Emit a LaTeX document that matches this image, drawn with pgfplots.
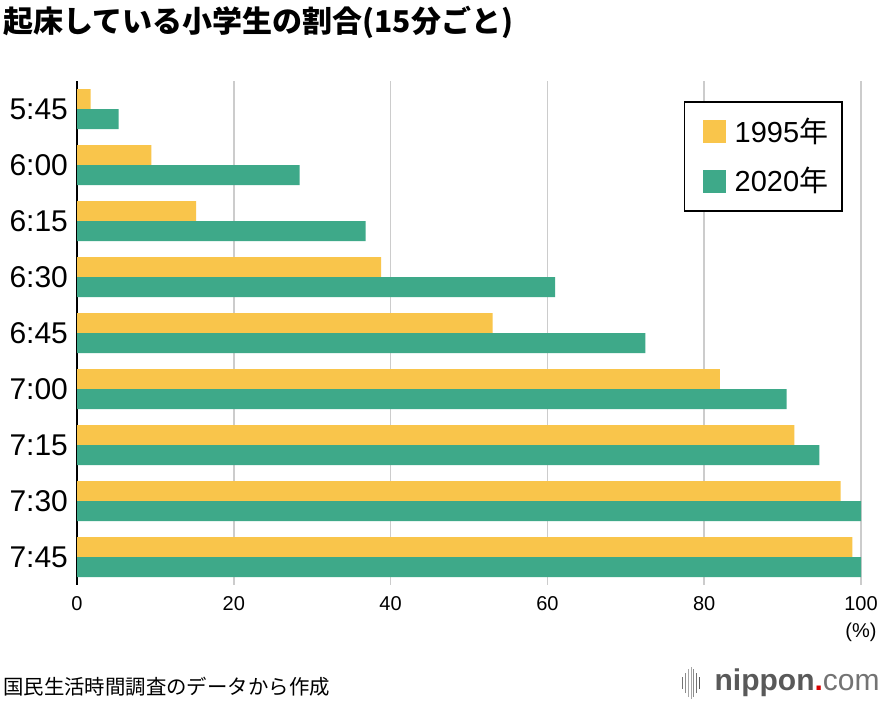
\documentclass[border=0pt]{standalone}
\usepackage{fontspec}
\setmainfont{Liberation Sans}
\newfontfamily\jp{Noto Sans CJK JP}
\usepackage{pgfplots}
\pgfplotsset{compat=1.18}
\definecolor{cyellow}{RGB}{249,197,75}
\definecolor{cgreen}{RGB}{62,169,137}
\definecolor{cgrid}{RGB}{204,204,204}
\begin{document}
\begin{tikzpicture}
\useasboundingbox[fill=white] (-38.5pt,-58.5pt) rectangle (402.5pt,292.5pt);
\begin{axis}[
  at={(0pt,0pt)}, anchor=south west,
  scale only axis, width=392pt, height=252pt,
  xbar, bar width=10pt,
  xmin=0, xmax=100, ymin=-0.5, ymax=8.5,
  y dir=reverse,
  axis lines=left,
  x axis line style={draw=none},
  y axis line style={-, black, line width=0.9pt},
  xtick={0,20,40,60,80,100},
  ytick={0,1,2,3,4,5,6,7,8},
  yticklabels={5:45,6:00,6:15,6:30,6:45,7:00,7:15,7:30,7:45},
  major tick length=0pt,
  xmajorgrids, grid style={cgrid, line width=0.75pt},
  xticklabel style={font=\fontsize{10}{12}\selectfont, yshift=-2pt},
  yticklabel style={font=\fontsize{15}{18}\selectfont, xshift=-1pt},
  /pgf/number format/assume math mode=true,
  legend style={at={(rel axis cs:0.774,0.960)}, anchor=north west,
    draw=black, line width=0.8pt, font=\fontsize{14.5}{17}\selectfont,
    inner xsep=5pt, inner ysep=6pt, row sep=7pt,
    cells={anchor=west}},
  legend image code/.code={\path (-4pt,0pt); \fill[#1,draw=none] (0pt,-5.75pt) rectangle (11.5pt,5.75pt);},
  clip=false,
]
\addplot[fill=cyellow, draw=none, bar shift=5pt] coordinates {
  (1.75,0) (9.5,1) (15.2,2) (38.8,3) (53.0,4) (82.0,5) (91.5,6) (97.4,7) (98.9,8)};
\addlegendentry{\hspace{2.5pt}1995{\jp 年}}
\addplot[fill=cgreen, draw=none, bar shift=-5pt] coordinates {
  (5.3,0) (28.4,1) (36.8,2) (61.0,3) (72.5,4) (90.5,5) (94.7,6) (100,7) (100,8)};
\addlegendentry{\hspace{2.5pt}2020{\jp 年}}
\node[font=\fontsize{10}{12}\selectfont, anchor=center] at ([yshift=-23.5pt]rel axis cs:1,0) {(\%)};
\end{axis}
\node[anchor=west, font=\jp\bfseries\fontsize{15}{18}\selectfont, inner sep=0pt] at (-37pt,281.5pt) {起床している小学生の割合(15分ごと)};
\node[anchor=west, font=\jp\fontsize{10.2}{12}\selectfont, inner sep=0pt] at (-37pt,-51pt) {国民生活時間調査のデータから作成};
\node[anchor=east, font=\fontsize{15}{18}\selectfont, inner sep=0pt] at (401.5pt,-49pt) {{\bfseries\color{black!65}nippon}{\bfseries\color{red!85!black}.}{\color{black!55}com}};
\foreach \xx/\hh/\gg in {302.8/3/55, 304.2/5/45, 305.6/7/35, 307.0/8/35, 308.4/7/45, 309.8/5/55, 311.2/3/65}{
  \draw[black!\gg, line width=0.5pt] (\xx pt,-49pt-\hh pt) -- (\xx pt,-49pt+\hh pt);
}
\end{tikzpicture}
\end{document}
